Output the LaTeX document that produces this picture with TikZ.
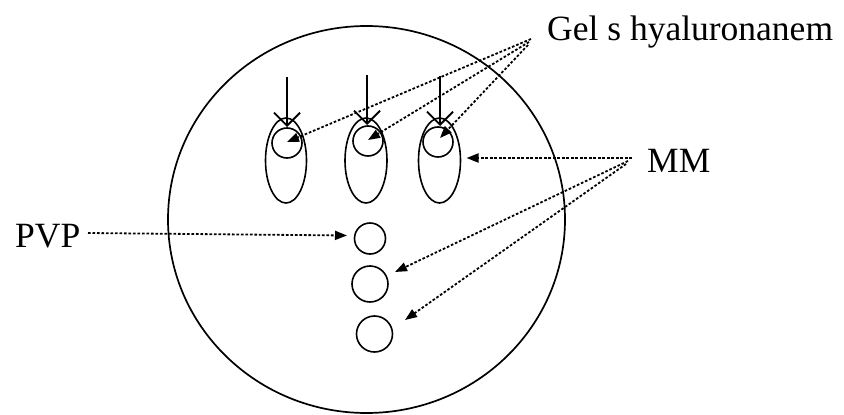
\documentclass[tikz,border=0pt]{standalone}
\usepackage{fontspec}
\setmainfont{Liberation Serif}
\usetikzlibrary{shapes.geometric,arrows.meta,calc}
\begin{document}
\begin{tikzpicture}[x=1pt,y=-1pt,
  outline/.style={draw=black,line width=1.6pt,inner sep=0pt,outer sep=0pt},
  cellshape/.style={outline,ellipse,minimum width=41pt,minimum height=85pt},
  gelshape/.style={outline,circle,minimum size=30pt},
  dropshape/.style={outline,circle},
  label/.style={anchor=base west,inner sep=0pt,font=\fontsize{35.5}{40}\selectfont},
  dotarrow/.style={line width=1.8pt,dash pattern=on 2.6pt off 1.9pt,-{Triangle[length=12pt,width=9pt]}},
  downarrow/.style={line width=2.4pt,-{Straight Barb[length=13pt,width=26pt,line width=1.9pt]}}
]
\useasboundingbox (0,0) rectangle (844,415);
% dish
\node[outline,ellipse,line width=1.7pt,minimum width=397pt,minimum height=387pt] (dish) at (366.5,219.5) {};
% cells
\node[cellshape] (e1) at (286,160.5) {};
\node[cellshape,minimum width=42pt] (e2) at (366,160.5) {};
\node[cellshape,minimum width=42pt] (e3) at (439.5,160.5) {};
\node[gelshape] (c1) at (287,143) {};
\node[gelshape] (c2) at (368,141) {};
\node[gelshape] (c3) at (438,142) {};
% drops
\node[dropshape,minimum size=31pt] (p1) at (370,238.5) {};
\node[dropshape,minimum size=36pt] (p2) at (370,284) {};
\node[dropshape,minimum size=36pt] (p3) at (374.5,334) {};
% labels
\node[label] (gel) at (547,40) {Gel s hyaluronanem};
\node[label] (mm) at (647,172) {MM};
\node[label] (pvp) at (15,247) {PVP};
% start coordinates
\coordinate (gA) at (531,39);
\coordinate (gB) at (529,42);
\coordinate (gC) at (528,45);
\coordinate (mA) at (632,158);
\coordinate (mB) at (628,161);
\coordinate (mC) at (626,164);
\coordinate (pA) at (88,233);
% down arrows
\draw[downarrow] ($(c1.north)+(0,-51)$) -- ($(c1.north)+(0,-1)$);
\draw[downarrow] ($(c2.north)+(-1,-51)$) -- ($(c2.north)+(-1,-1)$);
\draw[downarrow] ($(c3.north)+(2,-51)$) -- ($(c3.north)+(2,-1)$);
% gel arrows
\draw[dotarrow] (gA) -- ($(c1.center)+(0,-1)$);
\draw[dotarrow] (gB) -- ($(c2.center)+(0,-1)$);
\draw[dotarrow] (gC) -- ($(c3.center)+(2,-4)$);
% MM arrows
\draw[dotarrow] (mA) -- ($(e3.east)+(6,-2.5)$);
\draw[dotarrow] (mB) -- ($(p2.center)+(25,-12)$);
\draw[dotarrow] (mC) -- ($(p3.center)+(30.5,-14)$);
% PVP arrow
\draw[dotarrow] (pA) -- ($(p1.center)+(-23,-3)$);
\end{tikzpicture}
\end{document}
